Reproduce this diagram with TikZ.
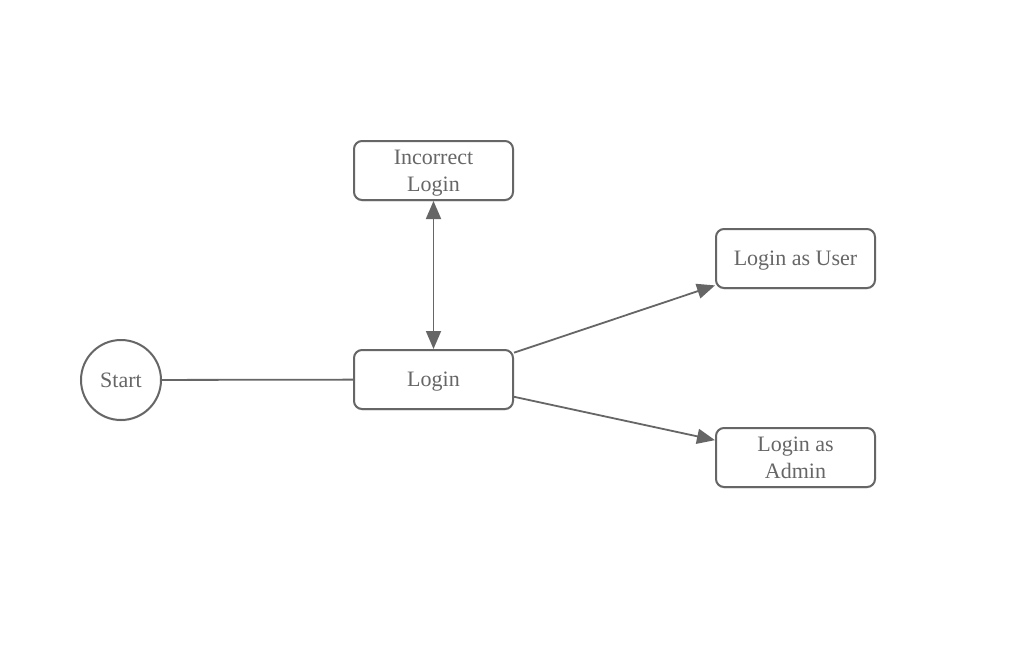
\documentclass[tikz,border=0pt]{standalone}
\usepackage{fontspec}
\setmainfont{Liberation Serif}
\usetikzlibrary{arrows.meta,shadows}
\definecolor{ink}{HTML}{666666}
\begin{document}
\begin{tikzpicture}[x=1pt,y=-1pt,
  every node/.style={text=ink, font=\fontsize{22}{27}\selectfont, align=center},
  statebox/.style={draw=ink, line width=2pt, rounded corners=8pt, fill=white,
    minimum width=159pt, minimum height=59pt, inner sep=2pt, text depth=0pt,
    drop shadow={opacity=0.15, shadow xshift=0pt, shadow yshift=-1.5pt}},
  startnode/.style={draw=ink, line width=2pt, circle, fill=white, minimum size=80pt, inner sep=0pt,
    drop shadow={opacity=0.15, shadow xshift=0pt, shadow yshift=-1.5pt}},
  link/.style={draw=ink, line width=1.8pt},
  tip/.style={-{Triangle[length=18pt,width=15pt]}}
]
\useasboundingbox (0,0) rectangle (1012,664);
\fill[white] (0,0) rectangle (1012,664);

\node[startnode] (start) at (121,380) {Start};
\node[statebox] (login) at (433.5,379.5) {Login};
\node[statebox] (wrong) at (433.5,170.5) {Incorrect\\Login};
\node[statebox] (user) at (795.5,258.5) {Login as User};
\node[statebox] (admin) at (795.5,457.5) {Login as\\Admin};

\draw[link] (start) -- (login);
\draw[link,{Triangle[length=18pt,width=15pt]}-{Triangle[length=18pt,width=15pt]}] (login) -- (wrong);
\draw[link,tip] (login) -- (user);
\draw[link,tip] (login) -- (admin);
\end{tikzpicture}
\end{document}
